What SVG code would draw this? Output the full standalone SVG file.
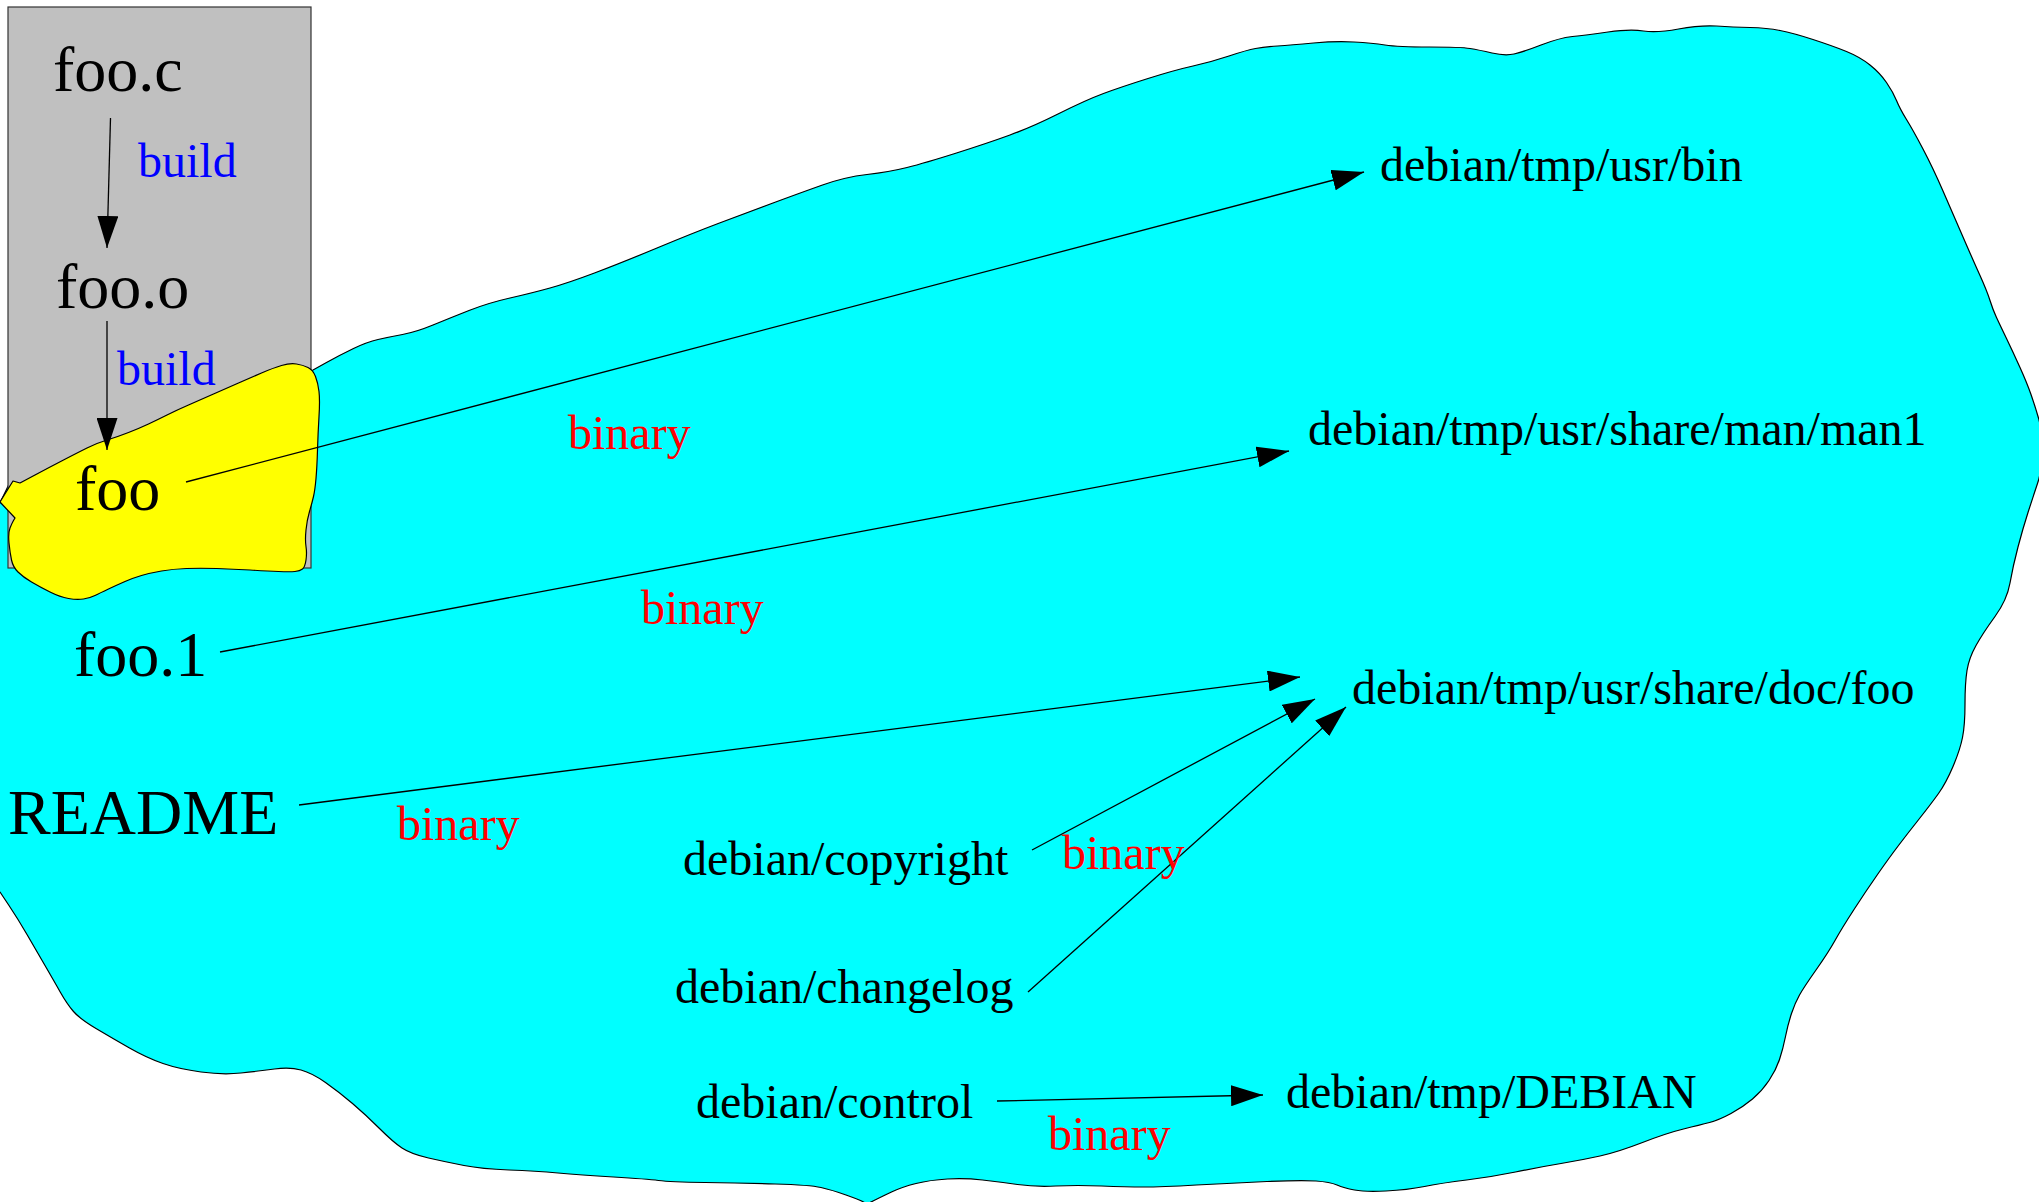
<svg xmlns="http://www.w3.org/2000/svg" width="2039" height="1202" viewBox="0 0 2039 1202">
<style>
.big{font-family:"Liberation Serif","Times New Roman",serif;font-size:64px;fill:#000}
.mid{font-family:"Liberation Serif","Times New Roman",serif;font-size:48px;fill:#000}
.build{font-family:"Liberation Serif","Times New Roman",serif;font-size:48px;fill:#0000ff}
.bin{font-family:"Liberation Serif","Times New Roman",serif;font-size:48px;fill:#ff0000}
.edge{stroke:#000;stroke-width:1.3;fill:none;marker-end:url(#ah)}
.blob{stroke:#000;stroke-width:1.2;stroke-linejoin:round}
</style>
<defs>
<marker id="ah" markerUnits="userSpaceOnUse" markerWidth="32" markerHeight="21" refX="32" refY="10.5" orient="auto" viewBox="0 0 32 21">
<path d="M0,0 L32,10.5 L0,21 z" fill="#000"/>
</marker>
</defs>
<rect width="2039" height="1202" fill="#fff"/>
<g id="area-debian-tmp">
<path class="blob" fill="#00ffff" d="M313,370 L326.5,362.5 Q340,355 353.5,348.5 Q367,342 378,339.5 Q389,337 402.5,334.5 Q416,332 433,325 Q450,318 469,310.5 Q488,303 510,298 Q532,293 550,288 Q568,283 594.5,273 Q621,263 657,248 Q693,233 719.5,223 Q746,213 773,203 Q800,193 822.5,185 Q845,177 867,174.5 Q889,172 907,167.5 Q925,163 956.5,153 Q988,143 1010,135 Q1032,127 1059,113.5 Q1086,100 1103.5,93.5 Q1121,87 1148,78.5 Q1175,70 1193,66 Q1211,62 1229,56 Q1247,50 1255.5,48.5 Q1264,47 1277.5,46 Q1291,45 1313.5,43 Q1336,41 1354,42 Q1372,43 1385,45 Q1398,47 1429.5,47 Q1461,47 1470,48.5 Q1479,50 1492,53 Q1505,56 1514,54 Q1523,52 1541,45 Q1559,38 1572.5,36.5 Q1586,35 1608,32 Q1630,29 1643.5,31 Q1657,33 1678.5,29 Q1700,25 1716.5,26 Q1733,27 1750,27.5 Q1767,28 1780,30.5 Q1793,33 1813,39.5 Q1833,46 1846.5,51.5 Q1860,57 1870,65 Q1880,73 1886.5,82.5 Q1893,92 1896.5,100.5 Q1900,109 1906.5,119.5 Q1913,130 1923,149 Q1933,168 1943,191 Q1953,214 1963,237 Q1973,260 1980,275.5 Q1987,291 1990,300.5 Q1993,310 1996.5,317.5 Q2000,325 2006.5,338.5 Q2013,352 2020,367.5 Q2027,383 2031,394.5 Q2035,406 2038.5,418 Q2042,430 2042,450 Q2042,470 2037.5,483.5 Q2033,497 2028,512.5 Q2023,528 2018,547 Q2013,566 2010,583 Q2007,600 1995,616.5 Q1983,633 1976,645.5 Q1969,658 1967,670.5 Q1965,683 1965,704 Q1965,725 1962.5,737.5 Q1960,750 1953,766.5 Q1946,783 1938.5,793.5 Q1931,804 1919.5,818.5 Q1908,833 1898.5,845.5 Q1889,858 1877.5,874.5 Q1866,891 1854,909.5 Q1842,928 1835,940.5 Q1828,953 1816,970 Q1804,987 1799.5,995 Q1795,1003 1791.5,1013.5 Q1788,1024 1785.5,1036.5 Q1783,1049 1779.5,1059.5 Q1776,1070 1769,1080.5 Q1762,1091 1752.5,1099 Q1743,1107 1731,1113.5 Q1719,1120 1709.5,1122.5 Q1700,1125 1683.5,1129 Q1667,1133 1642.5,1142.5 Q1618,1152 1600,1156 Q1582,1160 1561,1163.5 Q1540,1167 1515.5,1172 Q1491,1177 1466.5,1180 Q1442,1183 1424.5,1186.5 Q1407,1190 1386,1191 Q1365,1192 1354.5,1190 Q1344,1188 1337,1185 Q1330,1182 1316,1181 Q1302,1180 1267,1181.5 Q1232,1183 1196.5,1185 Q1161,1187 1143.5,1187 Q1126,1187 1101.5,1186 Q1077,1185 1056,1186 Q1035,1187 1017.5,1184.5 Q1000,1182 982.5,1180 Q965,1178 947.5,1179 Q930,1180 916,1183.5 Q902,1187 891.5,1192 Q881,1197 874,1200.5 L867,1204 L863.5,1202 Q860,1200 846,1195 Q832,1190 821,1187.5 Q810,1185 775,1184 Q740,1183 705,1182.5 Q670,1182 658.5,1180.5 Q647,1179 613.5,1177 Q580,1175 558,1173 Q536,1171 509,1170 Q482,1169 464,1165.5 Q446,1162 428.5,1158 Q411,1154 402,1148 Q393,1142 379.5,1128.5 Q366,1115 352.5,1103.5 Q339,1092 325.5,1082.5 Q312,1073 301,1070 Q290,1067 274.5,1069 Q259,1071 241,1073 Q223,1075 201,1072 Q179,1069 163,1063.5 Q147,1058 129.5,1048 Q112,1038 96,1028.5 Q80,1019 73.5,1011.5 Q67,1004 60.5,992.5 Q54,981 45,965.5 Q36,950 27,934.5 Q18,919 9,905.5 L0,892 L-3,892 L-3,505 L0,503 L12,478 L60,460 L200,410 Z"/>
</g>
<g id="area-build">
<rect x="8" y="7" width="303" height="561" fill="#c0c0c0" stroke="#333" stroke-width="1.2"/>
</g>
<g id="area-foo">
<path class="blob" fill="#ffff00" d="M0,502 L13,481 L20,483 L35,475 Q50,467 63.5,460 Q77,453 87,448 Q97,443 107,440 Q117,437 128.5,432.5 Q140,428 148.5,424 Q157,420 167,415 Q177,410 188.5,405 Q200,400 213.5,394 Q227,388 238.5,383 Q250,378 261.5,373 Q273,368 281.5,365.5 Q290,363 296.5,364 Q303,365 308,367.5 Q313,370 315.5,376.5 Q318,383 319,391.5 Q320,400 319,416.5 Q318,433 317.5,450 Q317,467 316,478.5 Q315,490 313.5,496.5 Q312,503 309.5,511.5 Q307,520 306,530 Q305,540 306,546.5 Q307,553 306,560 Q305,567 302.5,569 Q300,571 295,571.5 Q290,572 278.5,571.5 Q267,571 250,570 Q233,569 216.5,568.5 Q200,568 186.5,568.5 Q173,569 161.5,571 Q150,573 141.5,575.5 Q133,578 125,581.5 Q117,585 108.5,589 Q100,593 95,595.5 Q90,598 83.5,599 Q77,600 68.5,598.5 Q60,597 50,592 Q40,587 31.5,582 Q23,577 18,572 Q13,567 11.5,560 Q10,553 9,543 Q8,533 10,528 Q12,523 13.5,520.5 L15,518 Z"/>
</g>
<g id="connectors">
<line class="edge" x1="110.5" y1="118" x2="107" y2="248"/>
<line class="edge" x1="107" y1="321" x2="107" y2="450"/>
<line class="edge" x1="186" y1="482" x2="1364" y2="172"/>
<line class="edge" x1="220" y1="652" x2="1289" y2="451"/>
<line class="edge" x1="299" y1="805" x2="1300" y2="677"/>
<line class="edge" x1="1032" y1="850" x2="1315" y2="699"/>
<line class="edge" x1="1028" y1="992" x2="1346" y2="707"/>
<line class="edge" x1="997" y1="1101" x2="1263" y2="1095"/>
<text class="build" x="138" y="177">build</text>
<text class="build" x="117" y="385">build</text>
<text class="bin" x="568" y="449">binary</text>
<text class="bin" x="641" y="624">binary</text>
<text class="bin" x="397" y="840">binary</text>
<text class="bin" x="1062" y="869">binary</text>
<text class="bin" x="1048" y="1150">binary</text>
</g>
<g id="node-foo-c"><text class="big" x="53" y="91">foo.c</text></g>
<g id="node-foo-o"><text class="big" x="56" y="308">foo.o</text></g>
<g id="node-foo"><text class="big" x="75" y="510">foo</text></g>
<g id="node-foo-1"><text class="big" x="74" y="676">foo.1</text></g>
<g id="node-readme"><text class="big" x="8" y="834">README</text></g>
<g id="node-bin"><text class="mid" x="1380" y="181">debian/tmp/usr/bin</text></g>
<g id="node-man1"><text class="mid" x="1308" y="445">debian/tmp/usr/share/man/man1</text></g>
<g id="node-doc"><text class="mid" x="1352" y="704">debian/tmp/usr/share/doc/foo</text></g>
<g id="node-copyright"><text class="mid" x="683" y="875">debian/copyright</text></g>
<g id="node-changelog"><text class="mid" x="675" y="1003">debian/changelog</text></g>
<g id="node-control"><text class="mid" x="696" y="1118">debian/control</text></g>
<g id="node-debian"><text class="mid" x="1286" y="1108">debian/tmp/DEBIAN</text></g>
</svg>
